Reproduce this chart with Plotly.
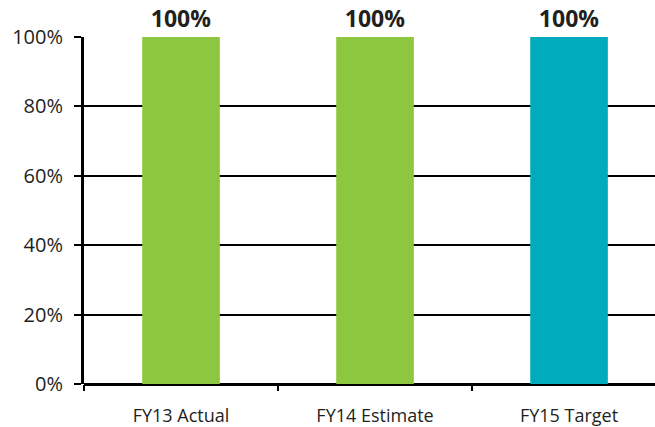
import plotly.graph_objects as go

categories = ["FY13 Actual", "FY14 Estimate", "FY15 Target"]
values = [100, 100, 100]
bar_colors = ["#8DC63F", "#8DC63F", "#00ABBE"]
y_ticks = [0, 20, 40, 60, 80, 100]
y_tick_labels = ["0%", "20%", "40%", "60%", "80%", "100%"]

fig = go.Figure()
fig.add_trace(go.Bar(
    x=categories, y=values,
    marker=dict(color=bar_colors, line=dict(width=0)),
    width=0.4,
    text=[f"{v}%" for v in values],
    textposition="outside",
    textfont=dict(family="Open Sans", size=23, color="#231F1C", weight="bold"),
    cliponaxis=False,
))

fig.update_layout(
    width=655, height=427,
    margin=dict(l=84, r=0, t=37, b=41),
    plot_bgcolor="white", paper_bgcolor="white",
    showlegend=False,
    font=dict(family="Open Sans", color="#231F1C"),
    xaxis=dict(
        range=[-0.5, 2.443],
        tickson="boundaries",
        ticks="outside", ticklen=6, tickwidth=2, tickcolor="black",
        showline=False, showgrid=False,
        tickfont=dict(size=18, color="#231F1C"),
        ticklabelstandoff=19,
    ),
    yaxis=dict(
        range=[0, 100], tickvals=y_ticks, ticktext=y_tick_labels,
        showgrid=True, gridcolor="black", gridwidth=2,
        zeroline=True, zerolinecolor="black", zerolinewidth=3,
        showline=True, linecolor="black", linewidth=3,
        ticks="outside", ticklen=7, tickwidth=2, tickcolor="black",
        tickfont=dict(size=20, color="#231F1C"),
        ticklabelstandoff=7,
    ),
)

fig.write_html("out.html")
